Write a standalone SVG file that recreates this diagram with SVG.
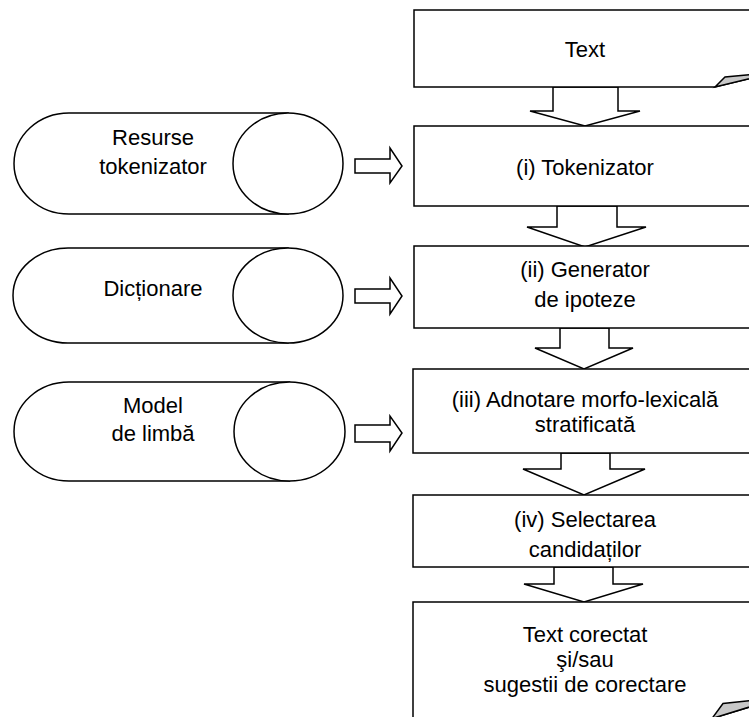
<svg xmlns="http://www.w3.org/2000/svg" width="749" height="717" viewBox="0 0 749 717">
<style>
.s{fill:#fff;stroke:#000;stroke-width:1.5;stroke-linejoin:miter}
.f{fill:#c8c8c8;stroke:#000;stroke-width:1.5;stroke-linejoin:miter}
.t{font-family:"Liberation Sans",Arial,sans-serif;font-size:22px;fill:#000;text-anchor:middle}
</style>
<rect width="749" height="717" fill="#fff"/>
<g id="connectors">
<polygon class="s" points="553,87 618,87 618,111 640,111 585,126 530,111 553,111"/>
<polygon class="s" points="557,206 617,206 617,227 646,227 585,247 527,227 557,227"/>
<polygon class="s" points="560,328 609,328 609,348 633,348 584,369 535,348 560,348"/>
<polygon class="s" points="561,453 610,453 610,469 645,469 584,495 523,469 561,469"/>
<polygon class="s" points="554,567 613,567 613,584 643,584 584,602 524,584 554,584"/>
<polygon class="s" points="355,159 390,159 390,148 402,166 390,183 390,173 355,173"/>
<polygon class="s" points="355,289 390,289 390,278 402,296 390,314 390,303 355,303"/>
<polygon class="s" points="355,425 390,425 390,416 402,433 390,451 390,442 355,442"/>
</g>
<g id="text-input">
<path class="s" d="M414,10 H756 V77 L715,87 H414 Z"/>
<polygon class="f" points="715,87 725,77 756,74 756,77"/>
<text class="t" x="585" y="57">Text</text>
</g>
<g id="tokenizator">
<rect class="s" x="414" y="126" width="342" height="80"/>
<text class="t" x="585" y="175">(i) Tokenizator</text>
</g>
<g id="generator">
<rect class="s" x="414" y="246" width="342" height="82"/>
<text class="t" x="585" y="277">(ii) Generator</text>
<text class="t" x="585" y="307">de ipoteze</text>
</g>
<g id="adnotare">
<rect class="s" x="413" y="369" width="343" height="84"/>
<text class="t" x="585" y="407">(iii) Adnotare morfo-lexicală</text>
<text class="t" x="585" y="432">stratificată</text>
</g>
<g id="selectarea">
<rect class="s" x="413" y="495" width="343" height="72"/>
<text class="t" x="585" y="527">(iv) Selectarea</text>
<text class="t" x="585" y="557">candidaților</text>
</g>
<g id="text-output">
<path class="s" d="M413,602 H756 V705 L712,718.5 H413 Z"/>
<polygon class="f" points="712,718.5 723,703.5 756,700 756,705"/>
<text class="t" x="585" y="642">Text corectat</text>
<text class="t" x="585" y="667">şi/sau</text>
<text class="t" x="585" y="692">sugestii de corectare</text>
</g>
<g id="resurse">
<path class="s" d="M288,113 H69 A55,50.5 0 0 0 69,214 H288 Z"/>
<ellipse class="s" cx="288" cy="163.5" rx="55" ry="50.5"/>
<text class="t" x="153" y="145">Resurse</text>
<text class="t" x="153" y="174">tokenizator</text>
</g>
<g id="dictionare">
<path class="s" d="M288,248 H68 A55,47.5 0 0 0 68,343 H288 Z"/>
<ellipse class="s" cx="288" cy="295.5" rx="55" ry="47.5"/>
<text class="t" x="153" y="296">Dicționare</text>
</g>
<g id="model">
<path class="s" d="M289.5,382 H69 A55,49.5 0 0 0 69,481 H289.5 Z"/>
<ellipse class="s" cx="289.5" cy="431.5" rx="55.5" ry="49.5"/>
<text class="t" x="153" y="413">Model</text>
<text class="t" x="153" y="441">de limbă</text>
</g>
</svg>
